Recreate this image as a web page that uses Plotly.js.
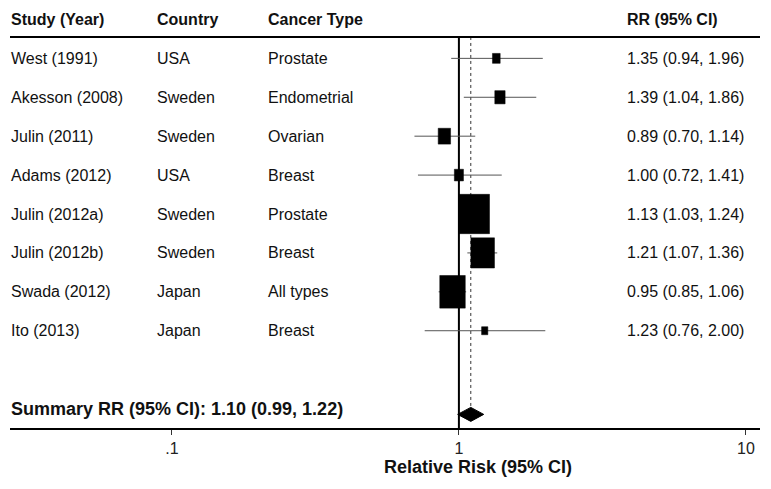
<!DOCTYPE html>
<html>
<head>
<meta charset="utf-8">
<script src="https://cdn.plot.ly/plotly-3.0.1.min.js"></script>
<style>html,body{margin:0;padding:0;background:#fff;}#chart{width:771px;height:489px;}</style>
</head>
<body>
<div id="chart"></div>
<script>
// ---- data ----
const studies   = ["West (1991)", "Akesson (2008)", "Julin (2011)", "Adams (2012)", "Julin (2012a)", "Julin (2012b)", "Swada (2012)", "Ito (2013)"];
const countries = ["USA", "Sweden", "Sweden", "USA", "Sweden", "Sweden", "Japan", "Japan"];
const cancers   = ["Prostate", "Endometrial", "Ovarian", "Breast", "Prostate", "Breast", "All types", "Breast"];
const rr        = [1.35, 1.39, 0.89, 1.00, 1.13, 1.21, 0.95, 1.23];
const ciLow     = [0.94, 1.04, 0.70, 0.72, 1.03, 1.07, 0.85, 0.76];
const ciHigh    = [1.96, 1.86, 1.14, 1.41, 1.24, 1.36, 1.06, 2.00];
const weights   = [2.3, 4.1, 5.9, 3.2, 36.4, 21.5, 25.1, 1.5];
const summaryRR   = 1.10;
const summaryLow  = 0.99;
const summaryHigh = 1.22;
const headers = ["Study (Year)", "Country", "Cancer Type", "RR (95% CI)"];
const tickVals = [0.1, 1, 10];
const tickText = [".1", "1", "10"];
const xTitle = "Relative Risk (95% CI)";

// ---- layout helpers ----
const W = 771, H = 489;
const mL = 10, mR = 11, mT = 0, mB = 61;
const plotW = W - mL - mR, plotH = H - mT - mB;
const xRange = [-1.564, 1.049];
const yRange = [10.5, -0.5];
const pxPerDecade = plotW / (xRange[1] - xRange[0]);
const pxPerRow = plotH / (yRange[0] - yRange[1]);
const px2paper = p => (p - mL) / plotW;

const FONT = "Liberation Sans, Arial, sans-serif";
const TXT = "#111";
const rows = studies.map((_, i) => i + 1);
const summaryRow = 10;
const diamondRow = 10.15;
const lineTop = 0.45;

const fmt = (a, b, c) => a.toFixed(2) + " (" + b.toFixed(2) + ", " + c.toFixed(2) + ")";

const traces = [];

// reference line at null value 1
traces.push({type: "scatter", mode: "lines", x: [1, 1], y: [lineTop, yRange[0]],
  line: {color: "#000", width: 2}, hoverinfo: "skip", showlegend: false});

// dashed line at summary estimate
const diamondHalf = 7 / pxPerRow;
traces.push({type: "scatter", mode: "lines", x: [summaryRR, summaryRR], y: [lineTop, diamondRow - diamondHalf],
  line: {color: "#333", width: 1, dash: "3px,3px"}, hoverinfo: "skip", showlegend: false});

// box geometry (area proportional to weight)
const boxW = weights.map(w => Math.sqrt(w * 33.18 / 1.28));     // px wide
const boxDec = boxW.map(p => p / pxPerDecade);                  // decades
const boxLo = rr.map((v, i) => v * Math.pow(10, -boxDec[i] / 2));
const boxHi = rr.map((v, i) => v * Math.pow(10, boxDec[i] / 2));
const boxHalfH = boxW.map(p => p * 1.28 / pxPerRow / 2);

// CI lines
const ciX = [], ciY = [];
rows.forEach((r, i) => { ciX.push(ciLow[i], ciHigh[i], null); ciY.push(r, r, null); });
traces.push({type: "scatter", mode: "lines", x: ciX, y: ciY,
  line: {color: "#555", width: 1}, hoverinfo: "skip", showlegend: false});

// weighted boxes as filled rectangles (drawn on top)
rows.forEach((r, i) => {
  traces.push({type: "scatter", mode: "lines", fill: "toself", fillcolor: "#000",
    x: [boxLo[i], boxHi[i], boxHi[i], boxLo[i], boxLo[i]],
    y: [r - boxHalfH[i], r - boxHalfH[i], r + boxHalfH[i], r + boxHalfH[i], r - boxHalfH[i]],
    line: {color: "#000", width: 0.5}, hoverinfo: "skip", showlegend: false});
});

// summary diamond
traces.push({type: "scatter", mode: "lines", fill: "toself", fillcolor: "#000",
  x: [summaryLow, summaryRR, summaryHigh, summaryRR, summaryLow],
  y: [diamondRow, diamondRow - diamondHalf, diamondRow, diamondRow + diamondHalf, diamondRow],
  line: {color: "#000", width: 1}, hoverinfo: "skip", showlegend: false});

// table text
const colX = [9, 155, 266, 625].map(px2paper);
const ann = [];
headers.forEach((h, j) => ann.push({xref: "paper", yref: "y", x: colX[j], y: 0, xanchor: "left", yanchor: "middle",
  text: "<b>" + h + "</b>", showarrow: false, font: {family: FONT, size: 16, color: TXT}}));
rows.forEach((r, i) => {
  [studies[i], countries[i], cancers[i], fmt(rr[i], ciLow[i], ciHigh[i])].forEach((t, j) => {
    ann.push({xref: "paper", yref: "y", x: colX[j], y: r, xanchor: "left", yanchor: "middle",
      text: t, showarrow: false, font: {family: FONT, size: 16, color: TXT}});
  });
});
ann.push({xref: "paper", yref: "y", x: colX[0], y: summaryRow, xanchor: "left", yanchor: "middle",
  text: "<b>Summary RR (95% CI): " + fmt(summaryRR, summaryLow, summaryHigh) + "</b>", showarrow: false,
  font: {family: FONT, size: 18, color: TXT}});
// x axis title
ann.push({xref: "paper", yref: "paper", x: px2paper(478), y: 0, xanchor: "center", yanchor: "middle",
  yshift: -39, text: "<b>" + xTitle + "</b>", showarrow: false, font: {family: FONT, size: 18, color: TXT}});

const layout = {
  width: W, height: H,
  margin: {l: mL, r: mR, t: mT, b: mB, pad: 0},
  paper_bgcolor: "#fff", plot_bgcolor: "#fff",
  showlegend: false,
  xaxis: {type: "log", range: xRange, tickvals: tickVals, ticktext: tickText,
    showgrid: false, zeroline: false, showline: true, linecolor: "#000", linewidth: 2,
    ticks: "outside", ticklen: 5, tickwidth: 1, tickcolor: "#333",
    tickfont: {family: FONT, size: 16, color: "#222"}, fixedrange: true},
  yaxis: {range: yRange, visible: false, showgrid: false, zeroline: false, fixedrange: true},
  shapes: [{type: "line", xref: "paper", yref: "y", x0: 0, x1: 1, y0: lineTop, y1: lineTop,
    line: {color: "#000", width: 2}}],
  annotations: ann
};

Plotly.newPlot("chart", traces, layout, {staticPlot: true, displayModeBar: false});
</script>
</body>
</html>
